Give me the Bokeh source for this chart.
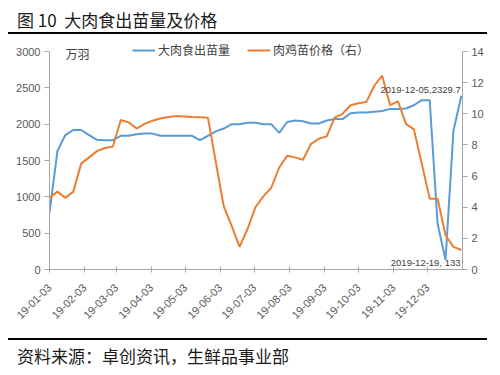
import math
import pandas as pd
from bokeh.plotting import figure
from bokeh.layouts import column
from bokeh.models import (Range1d, LinearAxis, FixedTicker, DatetimeTickFormatter,
                          Legend, LegendItem, Label, ColumnDataSource, Div)
from bokeh.embed import file_html
from bokeh.resources import INLINE

# ---------------- data ----------------
start_date = "2019-01-03"
n_weeks = 53
dates = pd.date_range(start_date, periods=n_weeks, freq="7D")

chick_output = [780, 1630, 1850, 1920, 1920, 1850, 1785, 1780, 1780, 1840,
                1840, 1860, 1870, 1870, 1840, 1840, 1840, 1840, 1840, 1780,
                1840, 1900, 1940, 2000, 2000, 2020, 2020, 2000, 2000, 1880,
                2030, 2050, 2040, 2010, 2010, 2050, 2070, 2070, 2150, 2160,
                2160, 2170, 2180, 2210, 2210, 2215, 2260, 2330, 2329.7, 630,
                133, 1910, 2390]
chick_price = [4.6, 5.0, 4.6, 5.0, 6.8, 7.2, 7.6, 7.8, 7.9, 9.6,
               9.45, 9.05, 9.35, 9.55, 9.7, 9.8, 9.85, 9.83, 9.8, 9.78,
               9.75, 6.9, 4.05, 2.8, 1.45, 2.6, 4.0, 4.7, 5.25, 6.55,
               7.3, 7.2, 7.05, 8.05, 8.4, 8.55, 9.75, 10.0, 10.55, 10.68,
               10.75, 11.8, 12.45, 10.55, 10.8, 9.35, 9.0, 6.8, 4.55, 4.55,
               2.2, 1.45, 1.25]

tick_dates = ["2019-01-03", "2019-02-03", "2019-03-03", "2019-04-03", "2019-05-03",
              "2019-06-03", "2019-07-03", "2019-08-03", "2019-09-03", "2019-10-03",
              "2019-11-03", "2019-12-03"]
left_ticks = [0, 500, 1000, 1500, 2000, 2500, 3000]
right_ticks = [0, 2, 4, 6, 8, 10, 12, 14]
left_max, right_max = 3000, 14

title_text = "图 10&nbsp;&nbsp;大肉食出苗量及价格"
source_text = "资料来源：卓创资讯，生鲜品事业部"
series1_name = "大肉食出苗量"
series2_name = "肉鸡苗价格（右）"
unit_text = "万羽"
ann1 = ("2019-12-05", 2329.7, "2019-12-05,2329.7")
ann2 = ("2019-12-19", 133, "2019-12-19, 133")

BLUE = "#5B9BD5"
ORANGE = "#ED7D31"
TICK_COLOR = "#595959"
AXIS_COLOR = "#A6A6A6"
CJK = "Noto Sans CJK SC"
W = 484

def ms(d):
    return pd.Timestamp(d).value / 1e6

# ---------------- title ----------------
title_div = Div(
    text=(f"<div style=\"font-family:'{CJK}';font-size:17px;color:#1a1a1a;"
          "width:479px;height:26px;box-sizing:border-box;padding:2px 0 0 9px;"
          "line-height:20px;border-bottom:2px solid #000;white-space:nowrap;\">"
          f"{title_text}</div>"),
    width=W, height=28, margin=0)

# ---------------- main figure ----------------
src = ColumnDataSource(dict(date=dates, output=chick_output, price=chick_price))

frame_h = 229
axis_px = 218  # pixels from 0 to the top tick
p = figure(width=W, height=300, output_backend="svg", toolbar_location=None,
           x_axis_type="datetime",
           x_range=Range1d(ms("2019-01-03"), ms("2020-01-03")),
           y_range=Range1d(0, left_max * frame_h / axis_px),
           min_border_left=41, min_border_right=30, min_border_top=4, min_border_bottom=67,
           margin=0)
p.extra_y_ranges = {"price": Range1d(0, right_max * frame_h / axis_px)}
p.outline_line_color = None
p.grid.visible = False

l1 = p.line("date", "output", source=src, line_color=BLUE, line_width=2)
l2 = p.line("date", "price", source=src, y_range_name="price", line_color=ORANGE, line_width=2)

# x axis
xa = p.xaxis[0]
xa.ticker = FixedTicker(ticks=[ms(d) for d in tick_dates])
xa.formatter = DatetimeTickFormatter(days="%y-%m-%d", months="%y-%m-%d", years="%y-%m-%d")
xa.major_label_orientation = math.pi / 4
xa.minor_tick_line_color = None
xa.major_tick_in = 3
xa.major_tick_out = 3
xa.axis_line_color = AXIS_COLOR
xa.major_tick_line_color = AXIS_COLOR
xa.major_label_text_font_size = "11px"
xa.major_label_text_color = TICK_COLOR
xa.major_label_text_font = "Liberation Sans"
xa.major_label_standoff = 13

# left axis
ya = p.yaxis[0]
ya.ticker = FixedTicker(ticks=left_ticks)
ya.bounds = (0, left_max)
ya.minor_tick_line_color = None
ya.major_tick_in = 0
ya.major_tick_out = 5
ya.axis_line_color = AXIS_COLOR
ya.major_tick_line_color = AXIS_COLOR
ya.major_label_text_font_size = "11px"
ya.major_label_text_color = TICK_COLOR
ya.major_label_text_font = "Liberation Sans"
ya.major_label_standoff = 4

# right axis
ra = LinearAxis(y_range_name="price", ticker=FixedTicker(ticks=right_ticks), bounds=(0, right_max))
ra.minor_tick_line_color = None
ra.major_tick_in = 0
ra.major_tick_out = 5
ra.axis_line_color = AXIS_COLOR
ra.major_tick_line_color = AXIS_COLOR
ra.major_label_text_font_size = "11px"
ra.major_label_text_color = TICK_COLOR
ra.major_label_text_font = "Liberation Sans"
ra.major_label_standoff = 4
p.add_layout(ra, "right")

legend = Legend(items=[LegendItem(label=series1_name, renderers=[l1]),
                       LegendItem(label=series2_name, renderers=[l2])],
                orientation="horizontal", location=(83, 211),
                padding=0, margin=0, spacing=17, label_standoff=3,
                glyph_width=23, glyph_height=14, label_height=14,
                label_text_font=CJK, label_text_font_size="12px",
                label_text_color="#404040",
                background_fill_alpha=0, border_line_color=None)
p.add_layout(legend, "center")

p.add_layout(Label(x=ms(start_date), y=left_max, x_offset=16, y_offset=-2, text=unit_text,
                   text_font=CJK, text_font_size="12px", text_color="#404040",
                   text_baseline="middle"))
p.add_layout(Label(x=ms(ann1[0]), y=ann1[1], x_offset=31, y_offset=10, text=ann1[2],
                   text_font="Liberation Sans", text_font_size="9.5px", text_color="#404040",
                   text_baseline="middle", text_align="right"))
p.add_layout(Label(x=ms(ann2[0]), y=ann2[1], x_offset=15, y_offset=-2.5, text=ann2[2],
                   text_font="Liberation Sans", text_font_size="9.5px", text_color="#404040",
                   text_baseline="middle", text_align="right"))

# ---------------- source ----------------
source_div = Div(
    text=(f"<div style=\"font-family:'{CJK}';font-size:17px;color:#1a1a1a;"
          "width:479px;margin-top:2px;border-top:2px solid #000;box-sizing:border-box;"
          "padding:6px 0 0 9px;line-height:20px;white-space:nowrap;\">"
          f"{source_text}</div>"),
    width=W, height=31, margin=0)

layout = column(title_div, p, source_div, spacing=0, margin=(8, 8, 8, 8))
open("out.html", "w").write(file_html(layout, INLINE))
